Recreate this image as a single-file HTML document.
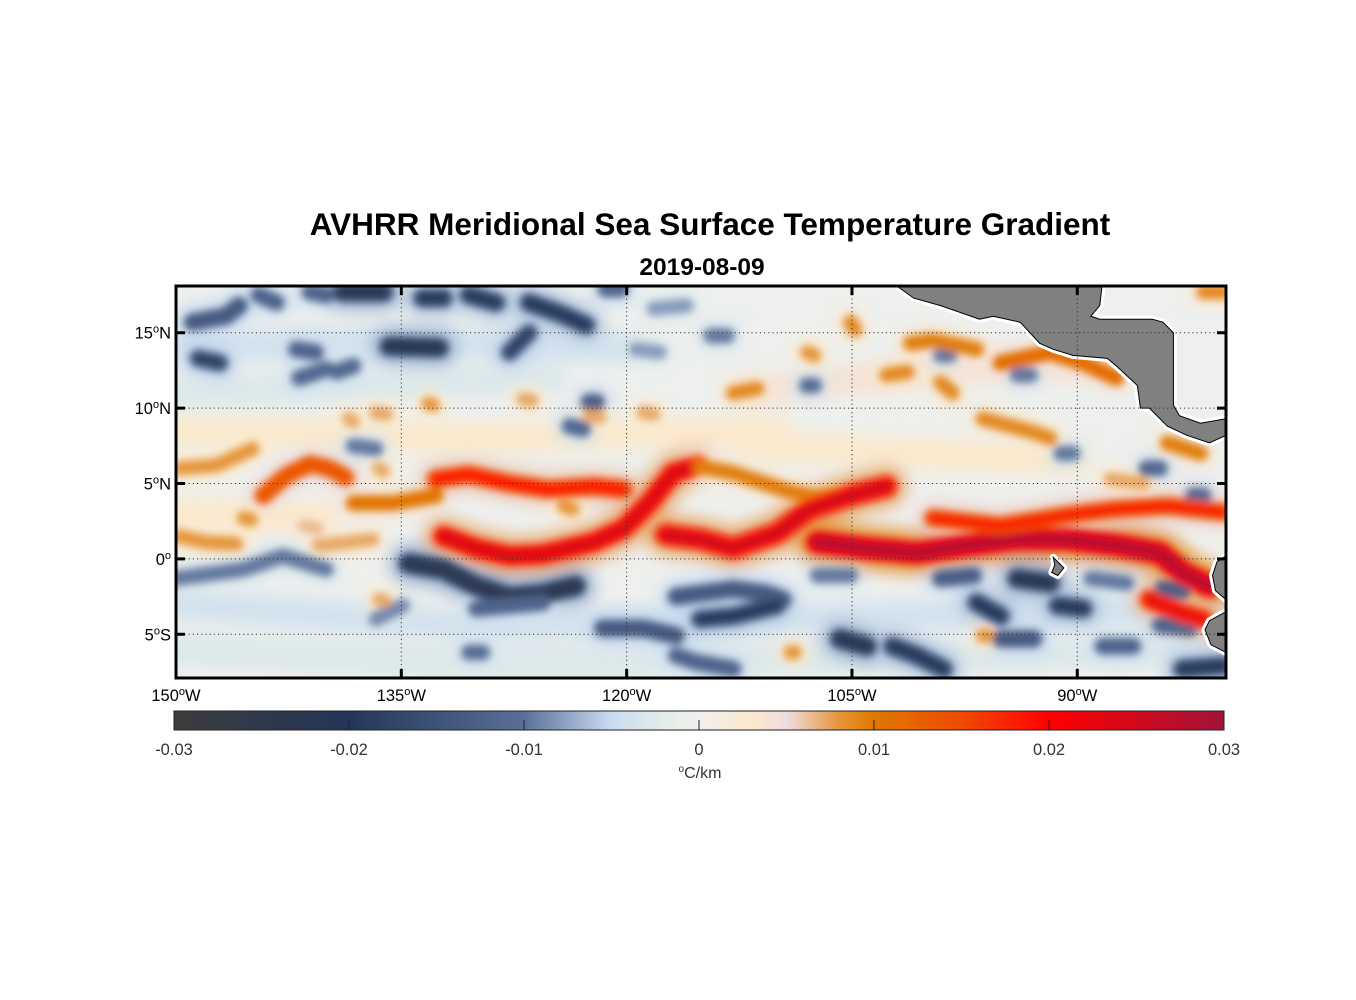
<!DOCTYPE html>
<html><head><meta charset="utf-8">
<style>
html,body{margin:0;padding:0;background:#fff;}
svg{display:block;font-family:"Liberation Sans",Arial,sans-serif;}
</style></head>
<body>
<svg id="chart" width="1356" height="1000" viewBox="0 0 1356 1000" xmlns="http://www.w3.org/2000/svg">
<defs>
  <clipPath id="mapclip"><rect x="176" y="286" width="1050" height="392"/></clipPath>
  <filter id="blur" x="-20%" y="-50%" width="140%" height="200%"><feGaussianBlur stdDeviation="4"/></filter>
  <filter id="blurw" x="-20%" y="-50%" width="140%" height="200%"><feGaussianBlur stdDeviation="8"/></filter>
  <linearGradient id="cbgrad" x1="0" x2="1" y1="0" y2="0"></linearGradient>
</defs>
<text x="710" y="235" text-anchor="middle" font-size="31.5" font-weight="bold">AVHRR Meridional Sea Surface Temperature Gradient</text>
<text x="702" y="275" text-anchor="middle" font-size="24.5" font-weight="bold">2019-08-09</text>
<g id="map" clip-path="url(#mapclip)">
  <rect x="176" y="286" width="1050" height="392" fill="#eef0ee"/>
  <g id="washes" filter="url(#blurw)"></g>
  <g id="halos" filter="url(#blurw)"></g>
  <g id="fronts" filter="url(#blur)"></g>
  <g id="land"></g>
  <g id="grid"></g>
</g>
<rect x="176" y="286" width="1050" height="392" fill="none" stroke="#000" stroke-width="3"/>
<g id="ticks"></g>
<g id="axislabels" font-size="16.5"></g>
<rect id="cbar" x="174" y="711" width="1050" height="19" fill="url(#cbgrad)" stroke="#222" stroke-width="1"/>
<g id="cbticks" font-size="16.5"></g>
<text x="700" y="778" text-anchor="middle" font-size="16" fill="#333"><tspan font-size="10" dy="-6">o</tspan><tspan dy="6">C/km</tspan></text>
</svg>
<script>
// ---- colormap data ----
const cmapValues = [-0.03,-0.02,-0.01,-0.005,-0.002,0,0.003,0.005,0.008,0.01,0.015,0.02,0.03];
const cmapColors = ['#3c3c3c','#233659','#5a6f98','#c9dcf2','#e4eee6','#f0f0ee','#fbe9cc','#eedde0','#e5953a','#e07800','#f04a00','#ff0000','#a0143a'];
// ---- axis tick data ----
const lonTicks = [-150,-135,-120,-105,-90];
const latTicks = [15,10,5,0,-5];
const cbTicks = [-0.03,-0.02,-0.01,0,0.01,0.02,0.03];
const cbTickLabels = ['-0.03','-0.02','-0.01','0','0.01','0.02','0.03'];
// ---- feature data: positive fronts (lon,lat paths) and values ----
const posPaths = [
 [[-144.2,4.2],[-142.7,5.5],[-141.1,6.3],[-139.8,6.0],[-138.7,5.4]],
 [[-149.8,6.0],[-147.3,6.2],[-144.9,7.3]],
 [[-149.8,1.5],[-148.0,1.1],[-146.0,1.0]],
 [[-140.5,0.9],[-138.5,1.1],[-136.9,1.3]],
 [[-138.2,3.7],[-135.6,3.7],[-132.7,4.2]],
 [[-132.7,5.3],[-130.5,5.6],[-127.8,5.0],[-125.2,4.6],[-122.2,4.8],[-120.2,4.6]],
 [[-132.2,1.5],[-130.0,0.7],[-127.8,0.2],[-125.6,0.3],[-122.2,1.1],[-120.2,2.0],[-118.5,3.7],[-116.9,5.7],[-115.2,6.2]],
 [[-115.1,6.1],[-112.9,5.7],[-109.6,4.6],[-107.3,4.0],[-104.7,4.4],[-102.7,5.0]],
 [[-117.4,1.6],[-115.1,1.3],[-112.9,0.7],[-110.0,1.7],[-107.8,3.3],[-105.1,4.2],[-102.7,4.8]],
 [[-107.3,1.1],[-104.0,0.7],[-100.7,0.4],[-97.3,0.9],[-94.0,1.3],[-90.7,1.3],[-87.3,0.9],[-84.5,0.4],[-83.0,-0.9],[-81.2,-1.8]],
 [[-99.6,2.7],[-95.1,2.2],[-90.7,2.9],[-87.4,3.3],[-84.0,3.5],[-80.3,3.1]],
 [[-85.2,-2.7],[-83.0,-3.6],[-81.6,-4.0]],
 [[-95.1,13.0],[-91.8,13.7],[-89.6,13.0],[-87.4,12.0]],
 [[-101.1,14.3],[-99.6,14.5],[-96.7,13.9]],
 [[-96.3,9.3],[-92.9,8.4],[-91.8,8.0]],
 [[-84.0,7.7],[-81.8,7.0]],
 [[-105.1,15.7],[-104.8,15.2]],
 [[-102.7,12.2],[-101.3,12.4]],
 [[-99.1,11.7],[-98.3,11.0]],
 [[-112.9,11.0],[-111.3,11.3]],
 [[-108.0,13.7],[-107.5,13.5]],
 [[-87.8,5.3],[-85.6,5.0]],
 [[-81.6,17.7],[-80.3,17.7]],
 [[-138.5,9.3],[-138.2,9.1]],
 [[-136.7,9.7],[-136.0,9.6]],
 [[-133.2,10.3],[-132.9,10.2]],
 [[-126.9,10.6],[-126.3,10.5]],
 [[-122.5,9.5],[-121.8,9.4]],
 [[-136.5,6.0],[-136.2,5.8]],
 [[-124.2,3.5],[-123.6,3.3]],
 [[-145.5,2.7],[-145.0,2.6]],
 [[-141.5,2.2],[-140.6,2.0]],
 [[-136.5,-2.7],[-136.1,-2.8]],
 [[-118.9,9.7],[-118.2,9.6]],
 [[-96.3,-5.1],[-96.0,-5.1]],
 [[-109.1,-6.2],[-108.8,-6.2]]
];
const posValues = [0.017,0.01,0.01,0.009,0.013,0.019,0.023,0.012,0.024,0.027,0.018,0.021,0.014,0.012,0.011,0.012,0.011,0.011,0.011,0.011,0.01,0.009,0.011,0.009,0.009,0.01,0.009,0.009,0.009,0.01,0.01,0.008,0.009,0.009,0.01,0.01];
const negPaths = [
 [[-134.5,-0.3],[-132.2,-0.7],[-130.0,-1.8],[-127.8,-2.5],[-125.6,-2.3],[-123.4,-1.8]],
 [[-150,-1.3],[-145.5,-0.7],[-142.9,0.2],[-140.0,-0.7]],
 [[-130,-3.3],[-127.8,-3.1],[-125.6,-2.9]],
 [[-136.7,-4.0],[-134.9,-3.1]],
 [[-121.6,-4.6],[-118.9,-4.6],[-116.7,-5.1]],
 [[-116.7,-2.5],[-112.9,-2.0],[-110.7,-2.3],[-109.6,-2.7]],
 [[-115.1,-4.0],[-112.9,-3.8],[-110.0,-3.1]],
 [[-148.9,15.7],[-146.7,16.1],[-145.8,16.8]],
 [[-144.5,17.5],[-143.3,17.0]],
 [[-141.1,17.7],[-140.0,17.5]],
 [[-138.9,17.7],[-136.2,17.7]],
 [[-133.6,17.3],[-132.2,17.3]],
 [[-130.5,17.5],[-128.7,17.0]],
 [[-126.5,17.0],[-124.5,16.3],[-122.7,15.5]],
 [[-121.4,17.9],[-120.4,17.9]],
 [[-135.8,14.1],[-132.5,14.0]],
 [[-127.8,13.7],[-126.5,15.0]],
 [[-148.5,13.3],[-147.1,13.0]],
 [[-142.0,13.9],[-140.7,13.7]],
 [[-141.8,12.0],[-140.0,12.6]],
 [[-139.3,12.4],[-138.2,12.8]],
 [[-122.5,10.4],[-122.0,10.4]],
 [[-123.8,8.8],[-122.9,8.6]],
 [[-138.2,7.5],[-136.7,7.3]],
 [[-130.5,-6.2],[-129.6,-6.2]],
 [[-116.7,-6.4],[-115.2,-6.9]],
 [[-119.4,13.9],[-117.8,13.7]],
 [[-118.2,16.6],[-116.0,16.8]],
 [[-105.8,-5.3],[-104.0,-5.8]],
 [[-102.3,-5.8],[-100.7,-6.4],[-98.9,-7.3]],
 [[-99.1,-1.3],[-96.9,-1.1]],
 [[-94.0,-1.3],[-91.8,-1.6]],
 [[-96.7,-2.9],[-95.1,-3.8]],
 [[-91.3,-3.1],[-89.6,-3.3]],
 [[-95.1,-5.3],[-92.9,-5.3]],
 [[-88.3,-5.8],[-86.3,-5.8]],
 [[-89.1,-1.3],[-86.7,-1.6]],
 [[-84.5,-4.4],[-82.5,-4.6]],
 [[-83.0,-7.3],[-80.3,-7.1]],
 [[-107.3,-1.1],[-105.1,-1.1]],
 [[-115.1,-6.9],[-112.9,-7.3]],
 [[-114.4,14.8],[-113.3,14.8]],
 [[-99.1,13.5],[-98.5,13.5]],
 [[-94.0,12.2],[-93.1,12.2]],
 [[-108.0,11.5],[-107.5,11.5]],
 [[-91.1,7.0],[-90.3,7.0]],
 [[-85.4,6.0],[-84.5,6.0]],
 [[-82.3,4.2],[-81.6,4.2]],
 [[-84.3,-2.0],[-83.0,-2.1]]
];
const negValues = [-0.023,-0.012,-0.015,-0.011,-0.017,-0.017,-0.019,-0.017,-0.015,-0.015,-0.022,-0.02,-0.02,-0.02,-0.015,-0.022,-0.018,-0.018,-0.015,-0.014,-0.014,-0.016,-0.014,-0.012,-0.013,-0.015,-0.01,-0.01,-0.022,-0.02,-0.016,-0.022,-0.02,-0.02,-0.017,-0.015,-0.012,-0.015,-0.02,-0.012,-0.015,-0.012,-0.012,-0.012,-0.013,-0.012,-0.014,-0.014,-0.016];
// broad faint washes
const washPaths = [
 [[-150,14],[-135,14.5],[-120,14]],
 [[-150,11],[-138,11.5],[-125,12]],
 [[-150,-3],[-130,-4.5],[-110,-4],[-90,-3.5],[-80,-3]],
 [[-150,-6],[-130,-7],[-100,-6.5],[-80,-6]],
 [[-150,8.5],[-130,8],[-110,8.5]],
 [[-112,11],[-100,12.5],[-85,13]],
 [[-112,7.5],[-100,7],[-90,6.5]],
 [[-150,3],[-140,2.8]]
];
const washValues = [-0.004,-0.003,-0.004,-0.003,0.003,0.004,0.003,0.003];
// ---- land polygons ----
const landPolys = [
 [[-102.0,18.6],[-102.0,18.1],[-100.9,17.3],[-99.1,16.8],[-96.5,15.9],[-95.6,16.1],[-93.8,15.7],[-92.5,14.3],[-91.6,13.9],[-90.3,13.5],[-88.0,13.3],[-87.4,12.8],[-86.0,11.5],[-85.8,10.0],[-85.2,10.0],[-84.0,8.8],[-82.7,8.2],[-81.2,7.7],[-80.1,8.2],[-79.5,8.3],[-79.5,9.3],[-80.1,9.3],[-81.8,9.0],[-83.2,9.5],[-83.6,10.2],[-83.6,15.0],[-84.3,15.7],[-85.0,15.9],[-88.5,15.9],[-89.1,16.1],[-88.5,16.8],[-88.3,18.6]],
 [[-79.5,0.3],[-80.1,0.2],[-80.7,-0.2],[-81.0,-1.1],[-80.8,-2.1],[-80.1,-2.7],[-79.5,-2.8]],
 [[-79.5,-3.4],[-80.1,-3.5],[-81.2,-4.1],[-81.5,-4.7],[-81.1,-5.7],[-80.1,-6.2],[-79.5,-6.3]],
 [[-91.6,0.1],[-90.9,-0.6],[-91.3,-1.1],[-91.7,-0.9],[-91.5,-0.4]]
];

// ---- scales ----
const X0=176, X1=1226, Y0=286, Y1=678;
const LON0=-150, LON1=-80.1, LAT0=18.1, LAT1=-7.9;
function xs(lon){return X0+(lon-LON0)/(LON1-LON0)*(X1-X0);}
function ys(lat){return Y0+(lat-LAT0)/(LAT1-LAT0)*(Y1-Y0);}
function hex2rgb(h){return [parseInt(h.slice(1,3),16),parseInt(h.slice(3,5),16),parseInt(h.slice(5,7),16)];}
function cmap(v){
  v=Math.max(cmapValues[0],Math.min(cmapValues[cmapValues.length-1],v));
  for(let i=0;i<cmapValues.length-1;i++){
    if(v<=cmapValues[i+1]){
      const t=(v-cmapValues[i])/(cmapValues[i+1]-cmapValues[i]);
      const a=hex2rgb(cmapColors[i]), b=hex2rgb(cmapColors[i+1]);
      return 'rgb('+a.map((c,k)=>Math.round(c+(b[k]-c)*t)).join(',')+')';
    }
  }
  return cmapColors[cmapColors.length-1];
}
const NS='http://www.w3.org/2000/svg';
function mk(tag,attrs,parent){const e=document.createElementNS(NS,tag);for(const k in attrs)e.setAttribute(k,attrs[k]);parent.appendChild(e);return e;}
function pathD(pts){return pts.map((p,i)=>(i?'L':'M')+xs(p[0]).toFixed(1)+','+ys(p[1]).toFixed(1)).join(' ');}
function widthFor(v){return 9+Math.abs(v)*500;}

const washes=document.getElementById('washes');
washPaths.forEach((pts,i)=>{
  const e=mk('path',{d:pathD(pts),fill:'none',stroke:cmap(washValues[i]),'stroke-width':30,'stroke-linecap':'round','stroke-linejoin':'round'},washes);
  
  
});
const halos=document.getElementById('halos');
const fronts=document.getElementById('fronts');
function drawFeature(pts,v,name){
  const h=mk('path',{d:pathD(pts),fill:'none',stroke:cmap(v*0.3),'stroke-width':widthFor(v)*1.9,'stroke-linecap':'round','stroke-linejoin':'round'},halos);
  
  
  const c=mk('path',{d:pathD(pts),fill:'none',stroke:cmap(v*0.8),'stroke-width':widthFor(v),'stroke-linecap':'round','stroke-linejoin':'round'},fronts);
  
  
  if(Math.abs(v)>=0.018){
    const k=mk('path',{d:pathD(pts),fill:'none',stroke:cmap(v*1.05),'stroke-width':widthFor(v)*0.45,'stroke-linecap':'round','stroke-linejoin':'round'},fronts);
    
    
  }
}
negPaths.forEach((p,i)=>drawFeature(p,negValues[i],'negative-gradient-streak'));
posPaths.forEach((p,i)=>drawFeature(p,posValues[i],'positive-gradient-front'));

const land=document.getElementById('land');
landPolys.forEach((poly,i)=>{
  const d=poly.map((p,j)=>(j?'L':'M')+xs(p[0]).toFixed(1)+','+ys(p[1]).toFixed(1)).join(' ')+' Z';
  const w=mk('path',{d:d,fill:'none',stroke:'#fff','stroke-width':7,'stroke-linejoin':'round'},land);
  
  
  const e=mk('path',{d:d,fill:'#808080',stroke:'#000','stroke-width':1},land);
  
  
});

// grid
const grid=document.getElementById('grid');
latTicks.forEach(lat=>{
  const e=mk('line',{x1:X0,x2:X1,y1:ys(lat),y2:ys(lat),stroke:'#333','stroke-width':1,'stroke-dasharray':'1.2,3'},grid);
  
  
});
lonTicks.forEach(lon=>{
  if(lon===LON0)return;
  const e=mk('line',{x1:xs(lon),x2:xs(lon),y1:Y0,y2:Y1,stroke:'#333','stroke-width':1,'stroke-dasharray':'1.2,3'},grid);
  
  
});
// ticks and labels
const ticks=document.getElementById('ticks'), labs=document.getElementById('axislabels');
latTicks.forEach(lat=>{
  const y=ys(lat);
  [[X0,X0+9],[X1-9,X1]].forEach(s=>{
    const e=mk('line',{x1:s[0],x2:s[1],y1:y,y2:y,stroke:'#000','stroke-width':3},ticks);
    
    
  });
  const t=mk('text',{x:171,y:y+6,'text-anchor':'end'},labs);
  
  
  const n=Math.abs(lat), h=lat>0?'N':(lat<0?'S':'');
  t.innerHTML=n+'<tspan font-size="11" dy="-6">o</tspan><tspan dy="6">'+h+'</tspan>';
});
lonTicks.forEach(lon=>{
  const x=xs(lon);
  [[Y0,Y0+9],[Y1-9,Y1]].forEach(s=>{
    const e=mk('line',{x1:x,x2:x,y1:s[0],y2:s[1],stroke:'#000','stroke-width':3},ticks);
    
    
  });
  const t=mk('text',{x:x,y:701,'text-anchor':'middle'},labs);
  
  
  t.innerHTML=Math.abs(lon)+'<tspan font-size="11" dy="-6">o</tspan><tspan dy="6">W</tspan>';
});
// colorbar
const grad=document.getElementById('cbgrad');
for(let i=0;i<=60;i++){
  const v=-0.03+0.06*i/60;
  mk('stop',{offset:(i/60*100)+'%','stop-color':cmap(v)},grad);
}
const cbt=document.getElementById('cbticks');
const CB0=174, CB1=1224;
function cbx(v){return CB0+(v+0.03)/0.06*(CB1-CB0);}
cbTicks.forEach((v,i)=>{
  const x=cbx(v);
  if(i>0&&i<cbTicks.length-1){
    const e=mk('line',{x1:x,x2:x,y1:720,y2:730,stroke:'#222','stroke-width':1},cbt);
    
    
  }
  const t=mk('text',{x:x,y:755,'text-anchor':'middle',fill:'#333'},cbt);
  
  
  t.textContent=cbTickLabels[i];
});
</script>
</body></html>
